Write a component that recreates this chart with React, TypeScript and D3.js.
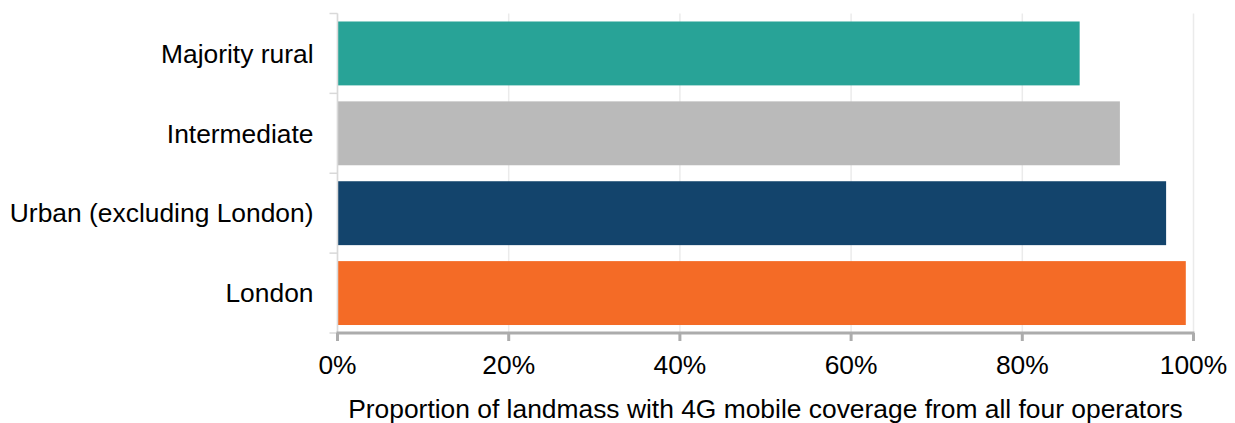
import React from "react";
import * as d3 from "d3";

const categories = ["Majority rural", "Intermediate", "Urban (excluding London)", "London"];
const values = [86.7, 91.4, 96.8, 99.1];
const colors = ["#28a397", "#bababa", "#13446c", "#f46b26"];
const xTicks = [0, 20, 40, 60, 80, 100];
const xTitle = "Proportion of landmass with 4G mobile coverage from all four operators";

export default function App() {
  const W = 1235, H = 423;
  const left = 337.5, right = 1193.5, top = 13.5, bottom = 333;
  const x = d3.scaleLinear().domain([0, 100]).range([left, right]);
  const y = d3.scaleBand().domain(categories).range([top, bottom]).paddingInner(0.2).paddingOuter(0.1);
  const yb = d3.scaleBand().domain(categories).range([top, bottom]);
  const font = "Liberation Sans, Arial, sans-serif";
  const fs = 26.4;
  return (
    <svg width={W} height={H} style={{ position: "absolute", left: 0, top: 0 }}>
      {xTicks.map((t) => (
        <line key={"g" + t} x1={x(t)} x2={x(t)} y1={top} y2={bottom} stroke="#ebebeb" strokeWidth={1.5} />
      ))}
      {categories.map((c, i) => (
        <rect key={c} x={x(0)} y={y(c)} width={x(values[i]) - x(0)} height={y.bandwidth()} fill={colors[i]} />
      ))}
      <line x1={left} x2={left} y1={top} y2={bottom} stroke="#d9d9d9" strokeWidth={1.5} />
      {[...categories.map((c) => yb(c) as number), bottom].map((v, i) => (
        <line key={"yt" + i} x1={left - 8} x2={left} y1={v} y2={v} stroke="#d9d9d9" strokeWidth={1.5} />
      ))}
      <line x1={left - 1} x2={right + 1} y1={bottom} y2={bottom} stroke="#acacac" strokeWidth={3} />
      {xTicks.map((t) => (
        <line key={"xt" + t} x1={x(t)} x2={x(t)} y1={bottom} y2={bottom + 8} stroke="#acacac" strokeWidth={3} />
      ))}
      {categories.map((c) => (
        <text key={"l" + c} x={313.5} y={(yb(c) as number) + yb.bandwidth() / 2} dy="0.35em" textAnchor="end" fontSize={fs} fontFamily={font} fill="#000">
          {c}
        </text>
      ))}
      {xTicks.map((t) => (
        <text key={"xl" + t} x={x(t)} y={374} textAnchor="middle" fontSize={fs} fontFamily={font} fill="#000">
          {t + "%"}
        </text>
      ))}
      <text x={(left + right) / 2} y={418} textAnchor="middle" fontSize={fs} fontFamily={font} fill="#000">
        {xTitle}
      </text>
    </svg>
  );
}
